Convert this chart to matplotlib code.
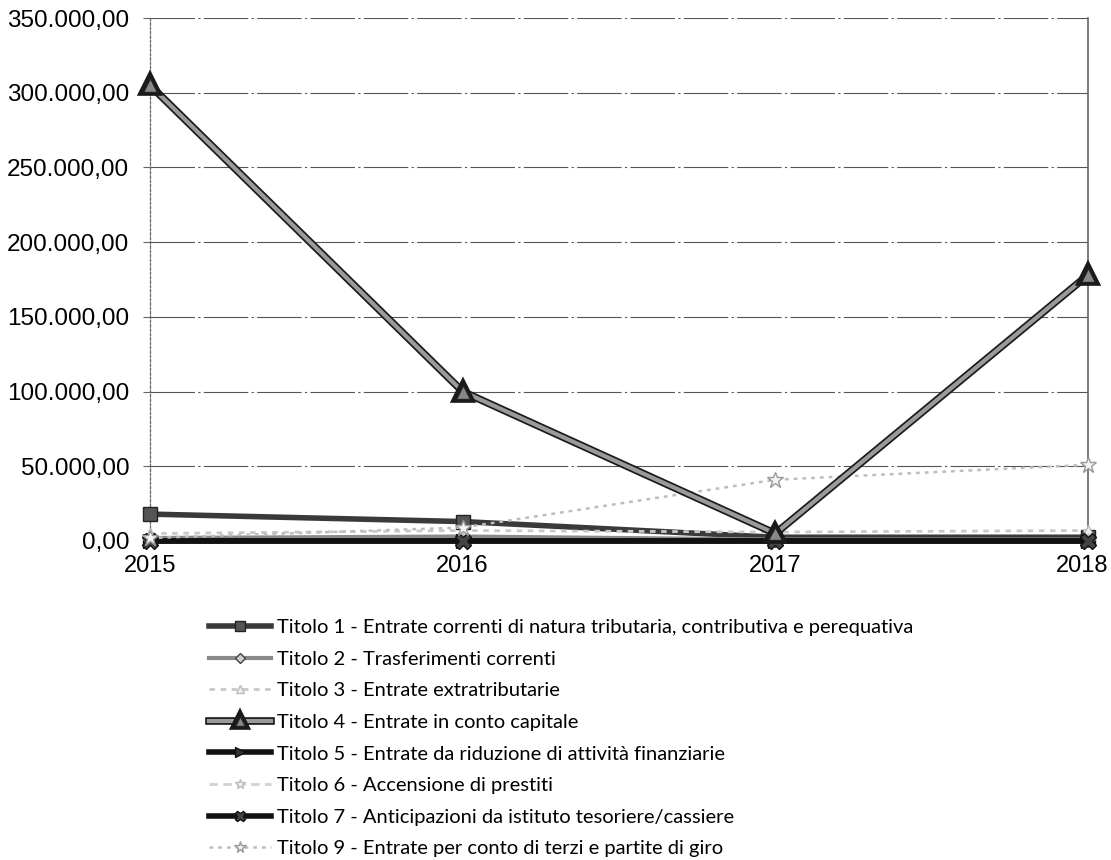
import matplotlib
matplotlib.use("Agg")
import matplotlib.pyplot as plt
import matplotlib.patheffects as pe
import matplotlib.transforms as mtransforms
from matplotlib.ticker import FuncFormatter

years = ["2015", "2016", "2017", "2018"]
labels = [
    "Titolo 1 - Entrate correnti di natura tributaria, contributiva e perequativa",
    "Titolo 2 - Trasferimenti correnti",
    "Titolo 3 - Entrate extratributarie",
    "Titolo 4 - Entrate in conto capitale",
    "Titolo 5 - Entrate da riduzione di attività finanziarie",
    "Titolo 6 - Accensione di prestiti",
    "Titolo 7 - Anticipazioni da istituto tesoriere/cassiere",
    "Titolo 9 - Entrate per conto di terzi e partite di giro",
]
titolo1 = [18000, 13000, 2500, 2500]
titolo2 = [2000, 3000, 1000, 1000]
titolo3 = [5000, 7000, 6000, 7000]
titolo4 = [305000, 100000, 5000, 178000]
titolo5 = [0, 0, 0, 0]
titolo6 = [0, 0, 0, 0]
titolo7 = [0, 0, 0, 0]
titolo9 = [2000, 9000, 41000, 51000]
series = [titolo1, titolo2, titolo3, titolo4, titolo5, titolo6, titolo7, titolo9]
yticks = [0, 50000, 100000, 150000, 200000, 250000, 300000, 350000]

styles = [
    dict(color="#3a3a3a", lw=4, marker="s", ms=10, ls="-", mec="#222222", mfc="#555555"),
    dict(color="#8a8a8a", lw=3, marker="D", ms=7, ls="-", mec="#444444", mfc="#cccccc"),
    dict(color="#c8c8c8", lw=2, marker="^", ms=8, ls=(0, (2, 2)), mec="#bbbbbb", mfc="#eeeeee"),
    dict(color="#9a9a9a", lw=3, marker="^", ms=10, ls="-", mec="#222222", mfc="#888888"),
    dict(color="#111111", lw=4, marker=">", ms=10, ls="-", mec="#111111", mfc="#333333"),
    dict(color="#d0d0d0", lw=2, marker="*", ms=11, ls=(0, (3, 2)), mec="#bbbbbb", mfc="#f0f0f0"),
    dict(color="#111111", lw=4, marker="X", ms=11, ls="-", mec="#111111", mfc="#444444"),
    dict(color="#bdbdbd", lw=1.8, marker="*", ms=12, ls=(0, (1.5, 2)), mec="#999999", mfc="#f4f4f4"),
]

fig = plt.figure(figsize=(11.11, 8.60), dpi=100)
ax = fig.add_axes([150 / 1111, 1 - 541 / 860, (1088 - 150) / 1111, (541 - 18) / 860])

x = list(range(len(years)))
order = [3, 0, 1, 2, 4, 5, 6, 7]
handles = [None] * len(series)
for i in order:
    st = styles[i]
    kw = {}
    if i == 3:
        kw["path_effects"] = [pe.Stroke(linewidth=5.5, foreground="#1a1a1a"), pe.Normal()]
    (h,) = ax.plot(x, series[i], color=st["color"], lw=st["lw"], ls=st["ls"],
                   marker=st["marker"], markersize=st["ms"], markeredgecolor=st["mec"],
                   markerfacecolor=st["mfc"], label=labels[i], clip_on=False,
                   zorder=3 + (1 if i == 3 else 0), **kw)
    handles[i] = h

ax.set_xlim(0, 3)
ax.set_ylim(0, 350000)
ax.set_xticks(x)
ax.set_xticklabels(years, fontsize=17, family="Liberation Sans")
ax.set_yticks(yticks)
ax.yaxis.set_major_formatter(FuncFormatter(
    lambda v, p: f"{v:,.2f}".replace(",", "X").replace(".", ",").replace("X", ".")))
for t in ax.get_yticklabels():
    t.set_fontsize(17.5)
    t.set_family("Liberation Sans")
ax.tick_params(axis="x", length=0, pad=10)
ax.tick_params(axis="y", length=5, width=0.8, color="#666666", pad=10)
ax.grid(axis="y", color="#555555", lw=0.8, ls=(0, (40, 3, 2, 3)))
ax.set_axisbelow(True)
for s in ["top", "bottom"]:
    ax.spines[s].set_visible(False)
ax.spines["left"].set_color("#666666")
ax.spines["left"].set_linestyle((0, (2, 1.5)))
ax.spines["left"].set_linewidth(0.9)
ax.spines["right"].set_color("#666666")
ax.spines["right"].set_linewidth(1.2)

# keep the last year label inside the picture like the reference
last = ax.get_xticklabels()[-1]
last.set_transform(last.get_transform() + mtransforms.ScaledTranslation(-6 / 100, 0, fig.dpi_scale_trans))

leg = fig.legend(handles=handles, labels=labels, loc="upper left",
                 bbox_to_anchor=(201 / 1111, 1 - 611 / 860), frameon=False,
                 prop={"family": "Lato", "size": 14.5},
                 handlelength=3.1, handletextpad=0.25, labelspacing=0.72,
                 borderaxespad=0, markerscale=0.7)

fig.savefig("out.png", dpi=100)
